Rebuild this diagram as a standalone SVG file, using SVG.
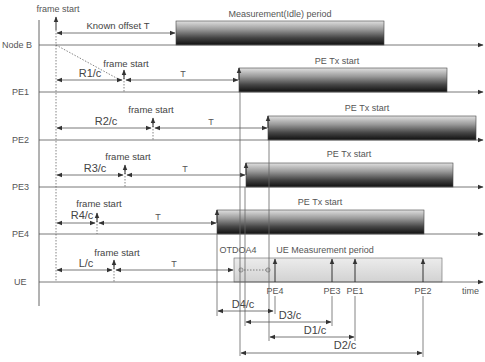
<svg xmlns="http://www.w3.org/2000/svg" width="485" height="362" viewBox="0 0 485 362">
<style>
text{font-family:"Liberation Sans",Arial,sans-serif;fill:#444;font-size:9.5px}
.lbl{font-size:9px;fill:#555}
.big{font-size:11px}
.axis{stroke:#666;stroke-width:1;fill:none}
.dash{stroke:#666;stroke-width:0.8;stroke-dasharray:1.5 1.5;fill:none}
.dim{stroke:#555;stroke-width:0.8;fill:none;marker-start:url(#ah);marker-end:url(#ah)}
.one{stroke:#555;stroke-width:0.8;fill:none;marker-end:url(#ah)}
.v{stroke:#666;stroke-width:0.8;fill:none}
.bar{fill:url(#g);stroke:#444;stroke-width:0.6}
.ue{fill:url(#g2);stroke:#666;stroke-width:0.6}
.up{stroke:#333;stroke-width:1;fill:none;marker-end:url(#ah)}
</style>
<defs>
<linearGradient id="g" x1="0" y1="0" x2="0" y2="1">
<stop offset="0" stop-color="#e0e0e0"/>
<stop offset="0.35" stop-color="#9a9a9a"/>
<stop offset="0.7" stop-color="#454545"/>
<stop offset="1" stop-color="#101010"/>
</linearGradient>
<linearGradient id="g2" x1="0" y1="0" x2="0" y2="1">
<stop offset="0" stop-color="#ececec"/>
<stop offset="1" stop-color="#d2d2d2"/>
</linearGradient>
<marker id="ah" viewBox="0 0 10 10" refX="9" refY="5" markerWidth="6" markerHeight="6" orient="auto-start-reverse" markerUnits="userSpaceOnUse">
<path d="M0,1 L10,5 L0,9 Z" fill="#333"/>
</marker>
<marker id="dot" viewBox="0 0 10 10" refX="5" refY="5" markerWidth="6" markerHeight="6" markerUnits="userSpaceOnUse">
<circle cx="5" cy="5" r="3.5" fill="#ccc" stroke="#666" stroke-width="1"/>
</marker>
</defs>

<g id="left-axis">
<line class="axis" x1="39" y1="20" x2="39" y2="306"/>
</g>

<g id="frame-start-ref">
<text x="58" y="12" text-anchor="middle" class="lbl">frame start</text>
<line class="dash" x1="56" y1="30" x2="56" y2="282"/>
<line class="up" x1="56" y1="30" x2="56" y2="17"/>
</g>

<g id="nodeB">
<text x="2" y="48" class="lbl">Node B</text>
<rect class="bar" x="176" y="21" width="208" height="24"/>
<text x="280" y="17" text-anchor="middle" class="lbl">Measurement(Idle) period</text>
<text x="118" y="29" text-anchor="middle">Known offset T</text>
</g>

<g id="pe1">
<text x="12" y="95" class="lbl">PE1</text>
<rect class="bar" x="239" y="68" width="208" height="24"/>
<text x="337" y="64" text-anchor="middle" class="lbl">PE Tx start</text>
<text x="126" y="67" text-anchor="middle">frame start</text>
<text x="90" y="77" text-anchor="middle" class="big">R1/c</text>
<text x="183" y="77" text-anchor="middle" class="lbl">T</text>
</g>

<g id="pe2">
<text x="12" y="143" class="lbl">PE2</text>
<rect class="bar" x="268" y="116" width="208" height="24"/>
<text x="367" y="111" text-anchor="middle" class="lbl">PE Tx start</text>
<text x="151" y="113" text-anchor="middle">frame start</text>
<text x="106" y="125" text-anchor="middle" class="big">R2/c</text>
<text x="211" y="125" text-anchor="middle" class="lbl">T</text>
</g>

<g id="pe3">
<text x="12" y="190" class="lbl">PE3</text>
<rect class="bar" x="246" y="163" width="207" height="24"/>
<text x="349" y="157" text-anchor="middle" class="lbl">PE Tx start</text>
<text x="128" y="160" text-anchor="middle">frame start</text>
<text x="95" y="172" text-anchor="middle" class="big">R3/c</text>
<text x="185" y="172" text-anchor="middle" class="lbl">T</text>
</g>

<g id="pe4">
<text x="12" y="237" class="lbl">PE4</text>
<rect class="bar" x="217" y="210" width="207" height="24"/>
<text x="320" y="205" text-anchor="middle" class="lbl">PE Tx start</text>
<text x="99" y="207" text-anchor="middle">frame start</text>
<text x="82" y="219" text-anchor="middle" class="big">R4/c</text>
<text x="158" y="220" text-anchor="middle" class="lbl">T</text>
</g>

<g id="ue">
<text x="14" y="285" class="lbl">UE</text>
<rect class="ue" x="234" y="258" width="208" height="24"/>
<text x="325" y="253" text-anchor="middle" class="lbl">UE Measurement period</text>
<text x="238" y="253" class="lbl" text-anchor="middle">OTDOA4</text>
<text x="117" y="256" text-anchor="middle">frame start</text>
<text x="86" y="267" text-anchor="middle" class="big">L/c</text>
<text x="174" y="267" text-anchor="middle" class="lbl">T</text>
<text x="275" y="294" text-anchor="middle" class="lbl">PE4</text>
<text x="332" y="294" text-anchor="middle" class="lbl">PE3</text>
<text x="355" y="294" text-anchor="middle" class="lbl">PE1</text>
<text x="423" y="294" text-anchor="middle" class="lbl">PE2</text>
<text x="462" y="294" class="lbl">time</text>
</g>

<g id="delays">
<text x="243" y="308" text-anchor="middle" class="big">D4/c</text>
<text x="290" y="319" text-anchor="middle" class="big">D3/c</text>
<text x="315" y="334" text-anchor="middle" class="big">D1/c</text>
<text x="345" y="349" text-anchor="middle" class="big">D2/c</text>
</g>

<g id="connectors">
<line class="one" x1="39" y1="45" x2="483" y2="45"/>
<line class="one" x1="39" y1="92" x2="483" y2="92"/>
<line class="one" x1="39" y1="140" x2="483" y2="140"/>
<line class="one" x1="39" y1="187" x2="483" y2="187"/>
<line class="one" x1="39" y1="234" x2="483" y2="234"/>
<line class="one" x1="39" y1="282" x2="483" y2="282"/>
<line class="dim" x1="57" y1="33" x2="175" y2="33"/>
<line class="dash" x1="56" y1="45" x2="120" y2="80"/>
<line class="dash" x1="124" y1="75" x2="124" y2="92"/>
<line class="up" x1="124" y1="79" x2="124" y2="70"/>
<line class="dim" x1="57" y1="80" x2="122" y2="80"/>
<line class="dim" x1="126" y1="80" x2="238" y2="80"/>
<line class="up" x1="239" y1="80" x2="239" y2="68"/>
<line class="dash" x1="153" y1="123" x2="153" y2="140"/>
<line class="up" x1="153" y1="127" x2="153" y2="118"/>
<line class="dim" x1="57" y1="128" x2="151" y2="128"/>
<line class="dim" x1="155" y1="128" x2="267" y2="128"/>
<line class="up" x1="268" y1="128" x2="268" y2="116"/>
<line class="dash" x1="125" y1="170" x2="125" y2="187"/>
<line class="up" x1="125" y1="174" x2="125" y2="165"/>
<line class="dim" x1="57" y1="175" x2="123" y2="175"/>
<line class="dim" x1="127" y1="175" x2="245" y2="175"/>
<line class="up" x1="246" y1="175" x2="246" y2="163"/>
<line class="dash" x1="97" y1="218" x2="97" y2="234"/>
<line class="up" x1="97" y1="222" x2="97" y2="213"/>
<line class="dim" x1="57" y1="223" x2="95" y2="223"/>
<line class="dim" x1="99" y1="223" x2="216" y2="223"/>
<line class="up" x1="217" y1="223" x2="217" y2="210"/>
<line class="dash" x1="114" y1="265" x2="114" y2="282"/>
<line class="up" x1="114" y1="269" x2="114" y2="260"/>
<line class="dim" x1="57" y1="270" x2="112" y2="270"/>
<line class="dim" x1="116" y1="270" x2="233" y2="270"/>
<line stroke="#666" stroke-width="0.8" stroke-dasharray="1.5 1.5" x1="241" y1="270" x2="268" y2="270" marker-start="url(#dot)" marker-end="url(#dot)"/>
<line class="v" x1="217" y1="234" x2="217" y2="316"/>
<line class="v" x1="240" y1="92" x2="240" y2="356"/>
<line class="v" x1="245" y1="187" x2="245" y2="326"/>
<line class="v" x1="269" y1="140" x2="269" y2="341"/>
<line class="up" x1="275" y1="282" x2="275" y2="259"/>
<line class="up" x1="332" y1="282" x2="332" y2="259"/>
<line class="up" x1="355" y1="282" x2="355" y2="259"/>
<line class="up" x1="423" y1="282" x2="423" y2="259"/>
<line class="v" x1="332" y1="296" x2="332" y2="326"/>
<line class="v" x1="355" y1="296" x2="355" y2="341"/>
<line class="v" x1="423" y1="296" x2="423" y2="357"/>
<line class="v" x1="275" y1="296" x2="275" y2="314"/>
<line class="dim" x1="218" y1="311" x2="273" y2="311"/>
<line class="dim" x1="246" y1="322" x2="331" y2="322"/>
<line class="dim" x1="270" y1="337" x2="354" y2="337"/>
<line class="dim" x1="241" y1="353" x2="422" y2="353"/>
</g>
</svg>
